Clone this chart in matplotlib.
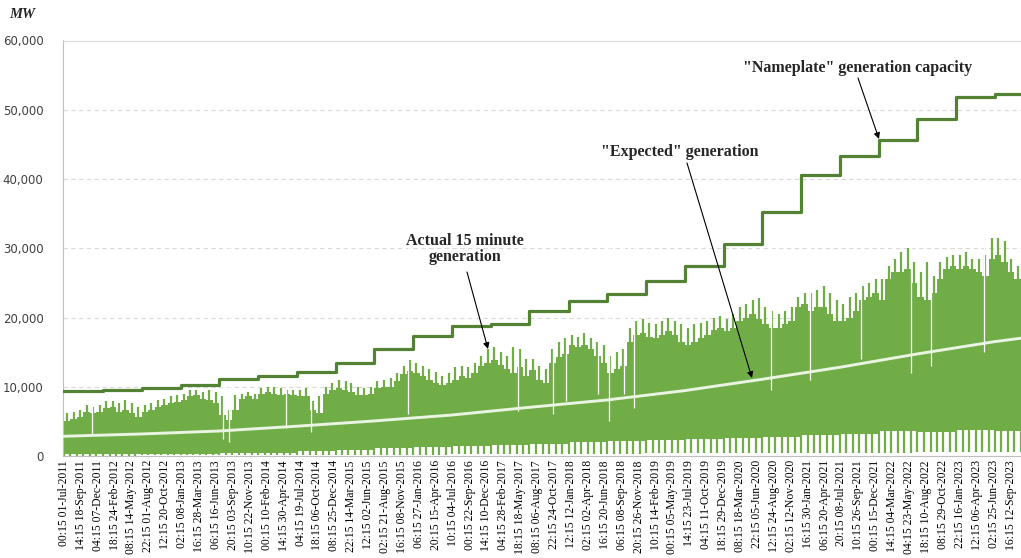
import numpy as np
import pandas as pd
import matplotlib
matplotlib.use("Agg")
import matplotlib.pyplot as plt
import matplotlib.dates as mdates
from matplotlib.ticker import FuncFormatter, MultipleLocator

# ---------------- data ----------------
tick_labels = [
    "00:15 01-Jul-2011", "14:15 18-Sep-2011", "04:15 07-Dec-2011", "18:15 24-Feb-2012",
    "08:15 14-May-2012", "22:15 01-Aug-2012", "12:15 20-Oct-2012", "02:15 08-Jan-2013",
    "16:15 28-Mar-2013", "06:15 16-Jun-2013", "20:15 03-Sep-2013", "10:15 22-Nov-2013",
    "00:15 10-Feb-2014", "14:15 30-Apr-2014", "04:15 19-Jul-2014", "18:15 06-Oct-2014",
    "08:15 25-Dec-2014", "22:15 14-Mar-2015", "12:15 02-Jun-2015", "02:15 21-Aug-2015",
    "16:15 08-Nov-2015", "06:15 27-Jan-2016", "20:15 15-Apr-2016", "10:15 04-Jul-2016",
    "00:15 22-Sep-2016", "14:15 10-Dec-2016", "04:15 28-Feb-2017", "18:15 18-May-2017",
    "08:15 06-Aug-2017", "22:15 24-Oct-2017", "12:15 12-Jan-2018", "02:15 02-Apr-2018",
    "16:15 20-Jun-2018", "06:15 08-Sep-2018", "20:15 26-Nov-2018", "10:15 14-Feb-2019",
    "00:15 05-May-2019", "14:15 23-Jul-2019", "04:15 11-Oct-2019", "18:15 29-Dec-2019",
    "08:15 18-Mar-2020", "22:15 05-Jun-2020", "12:15 24-Aug-2020", "02:15 12-Nov-2020",
    "16:15 30-Jan-2021", "06:15 20-Apr-2021", "20:15 08-Jul-2021", "10:15 26-Sep-2021",
    "00:15 15-Dec-2021", "14:15 04-Mar-2022", "04:15 23-May-2022", "18:15 10-Aug-2022",
    "08:15 29-Oct-2022", "22:15 16-Jan-2023", "12:15 06-Apr-2023", "02:15 25-Jun-2023",
    "16:15 12-Sep-2023",
]

# "Nameplate" capacity, one value per half year (H2-2011 ... H2-2023), MW
capacity_start = "2011-07-01"
nameplate_mw = [9400, 9600, 9800, 10300, 11100, 11600, 12200, 13500, 15500, 17300,
                18800, 19000, 20900, 22400, 23400, 25200, 27400, 30600, 35200, 40600,
                43300, 45600, 48700, 51900, 52300]

# "Expected" generation, read at 1 July of each year (2011-2023) and 1 Jan 2024
expected_dates = ["2011-07-01", "2012-07-01", "2013-07-01", "2014-07-01", "2015-07-01",
                  "2016-07-01", "2017-07-01", "2018-07-01", "2019-07-01", "2020-07-01",
                  "2021-07-01", "2022-07-01", "2023-07-01", "2024-01-01"]
expected_mw = [2850, 3180, 3610, 4300, 5060, 5920, 7030, 8090, 9440, 11080,
               12810, 14740, 16520, 17250]

# Actual 15-minute generation: monthly upper level of the dense band and monthly spike peaks
top_2011 = [5000, 5400, 5700, 6400, 6200, 6400]
top_2012 = [6900, 7100, 6400, 6600, 6200, 5700, 6400, 6600, 7100, 7400, 7600, 7800]
top_2013 = [8100, 8600, 8800, 8300, 8100, 7600, 5900, 5200, 6600, 8300, 8600, 8300]
top_2014 = [9000, 9300, 9000, 8800, 9000, 8800, 8600, 8600, 6600, 6200, 9000, 9500]
top_2015 = [9800, 9500, 9200, 8800, 8800, 9000, 9800, 10000, 10000, 10800, 11800, 12300]
top_2016 = [12000, 11500, 11000, 10500, 10200, 10500, 11000, 11500, 11200, 12000, 13000, 13500]
top_2017 = [13800, 13200, 12500, 12000, 12800, 11500, 12400, 11000, 10500, 13500, 14300, 14800]
top_2018 = [16000, 15800, 16000, 15500, 14500, 13500, 12000, 12500, 13000, 16500, 17500, 17800]
top_2019 = [17200, 17000, 17500, 18000, 17500, 16500, 16000, 16500, 17000, 17500, 18200, 18500]
top_2020 = [18000, 18500, 19500, 20000, 20500, 19800, 19000, 18500, 18500, 19000, 19500, 21500]
top_2021 = [22000, 21000, 21500, 21500, 20500, 19500, 19500, 20000, 21000, 22500, 23000, 23500]
top_2022 = [22500, 25500, 26500, 26500, 27000, 25000, 23000, 22500, 23500, 25500, 27000, 27500]
top_2023 = [27000, 27500, 27000, 26500, 26000, 28500, 29000, 28000, 26500, 25500, 25000]

peak_2011 = [6200, 6300, 6700, 7400, 7100, 7400]
peak_2012 = [7900, 7900, 7600, 8100, 7600, 7100, 7400, 7600, 8100, 8300, 8600, 8800]
peak_2013 = [9000, 9500, 9600, 9300, 9500, 9300, 8600, 6600, 8800, 9000, 9300, 9000]
peak_2014 = [9800, 10000, 10000, 9800, 9600, 9500, 9500, 9800, 8000, 8600, 10000, 10500]
peak_2015 = [11000, 10800, 10500, 10000, 9800, 10000, 10800, 11000, 11200, 12000, 13000, 13800]
peak_2016 = [13500, 13000, 12500, 12200, 11500, 12000, 12800, 13000, 12800, 13500, 14500, 15500]
peak_2017 = [15800, 15000, 14500, 15800, 15500, 14000, 14000, 13000, 12500, 15500, 16500, 17000]
peak_2018 = [17500, 17200, 17800, 17000, 16500, 16000, 14500, 15000, 15500, 18500, 19500, 19800]
peak_2019 = [19200, 19000, 19500, 20000, 19500, 19000, 18500, 19000, 19200, 19500, 20000, 20200]
peak_2020 = [19800, 20500, 21500, 22000, 22500, 22800, 21500, 21000, 20500, 21000, 21500, 23000]
peak_2021 = [23500, 23500, 24000, 24500, 23500, 22500, 22000, 23000, 23500, 24500, 25000, 25500]
peak_2022 = [25500, 27500, 28500, 29500, 30000, 28000, 26500, 28000, 26000, 28000, 28800, 29000]
peak_2023 = [29000, 29500, 28500, 28500, 29000, 31500, 31500, 31000, 28500, 27500, 27000]

# lower edge of the dense band and lowest dips, one value per half year (H2-2011 ... H2-2023)
low_mw = [250, 300, 300, 350, 400, 500, 700, 900, 1100, 1300, 1500, 1600, 1800,
          2000, 2100, 2300, 2500, 2600, 2800, 3000, 3200, 3600, 3400, 3800, 3600]
dip_mw = [50, 50, 80, 80, 100, 100, 150, 150, 200, 200, 250, 300, 300,
          300, 350, 400, 400, 400, 450, 500, 500, 500, 550, 600, 600]

# visible outages (white vertical gaps) and how far down they reach
gap_dates = ["2011-11-10", "2013-07-20", "2013-08-15", "2014-05-10", "2014-09-05",
             "2015-12-05", "2017-05-10", "2017-10-20", "2017-12-20", "2018-05-20",
             "2018-07-10", "2018-09-20", "2018-11-05", "2020-08-10", "2021-02-10",
             "2021-10-10", "2022-06-01", "2022-09-05", "2023-05-10"]
gap_floor_mw = [3000, 2500, 2000, 4000, 3500, 6000, 6500, 6000, 8000, 9000,
                5000, 9000, 7000, 9500, 11000, 14000, 12000, 13000, 15000]

# ---------------- build ----------------
top = np.array(sum([top_2011, top_2012, top_2013, top_2014, top_2015, top_2016, top_2017,
                    top_2018, top_2019, top_2020, top_2021, top_2022, top_2023], []))
peak = np.array(sum([peak_2011, peak_2012, peak_2013, peak_2014, peak_2015, peak_2016, peak_2017,
                     peak_2018, peak_2019, peak_2020, peak_2021, peak_2022, peak_2023], []))

month_start = pd.date_range("2011-07-01", periods=len(top) + 1, freq="MS")
edge_x = mdates.date2num(month_start.to_pydatetime())
start_x = edge_x[:-1]
mid_x = start_x + 15
month_half = ((month_start[:-1].year - 2011) * 12 + month_start[:-1].month - 7) // 6

half_start = pd.date_range(capacity_start, periods=len(nameplate_mw), freq="6MS")
half_x = mdates.date2num(half_start.to_pydatetime())

tick_x = mdates.date2num(pd.to_datetime(tick_labels, format="%H:%M %d-%b-%Y").to_pydatetime())
exp_x = mdates.date2num(pd.to_datetime(expected_dates).to_pydatetime())
gap_x = mdates.date2num(pd.to_datetime(gap_dates).to_pydatetime())

GREEN = "#70AD47"
DARK = "#548235"

W, H = 1021, 558
fig = plt.figure(figsize=(W / 100, H / 100), dpi=100)
ax = fig.add_axes([63 / W, 1 - 456 / H, 958 / W, (456 - 40.5) / H])

lows = np.array(low_mw)[month_half]
dips = np.array(dip_mw)[month_half]

# actual generation: dense monthly band (stepped) + spikes
ax.stairs(top, edge_x, baseline=lows, fill=True, color=GREEN, lw=0, zorder=2)
ax.vlines(mid_x, top - 500, peak, color=GREEN, lw=1.6, zorder=2)
ax.vlines(start_x, dips, lows + 500, color=GREEN, lw=1.6, zorder=2)
ax.vlines(gap_x, gap_floor_mw, 33000, color="white", lw=0.9, zorder=2.5)

# expected generation
ax.plot(exp_x, expected_mw, color="#EAF4E2", lw=2.1, zorder=3)

# nameplate capacity (step)
step_x = np.append(half_x, mdates.date2num(pd.Timestamp("2024-01-01").to_pydatetime()))
step_y = np.append(nameplate_mw, nameplate_mw[-1])
ax.step(step_x, step_y, where="post", color=DARK, lw=2.3, zorder=4)

# axes styling
x0 = mdates.date2num(pd.Timestamp("2011-07-01 00:15").to_pydatetime())
ax.set_xlim(x0 - 4, x0 - 4 + 958 / 0.21242)
ax.set_ylim(0, 60000)
ax.yaxis.set_major_locator(MultipleLocator(10000))
ax.yaxis.set_major_formatter(FuncFormatter(lambda v, p: f"{v:,.0f}"))
ax.grid(axis="y", color="#D9D9D9", linestyle=(0, (4, 3)), lw=0.8, zorder=0)
ax.set_axisbelow(True)
ax.spines["right"].set_visible(False)
ax.spines["top"].set_color("#D9D9D9")
ax.spines["left"].set_color("#BFBFBF")
ax.spines["bottom"].set_color("#BFBFBF")
ax.tick_params(axis="y", length=0, pad=14, labelsize=8.5, labelcolor="#404040")
for t in ax.get_yticklabels():
    t.set_fontfamily("DejaVu Sans")
ax.set_xticks(tick_x)
ax.set_xticklabels(tick_labels, rotation=90, fontfamily="Liberation Serif", fontsize=8.4)
ax.tick_params(axis="x", length=0, pad=3)

def F(px, py):
    return (px / W, 1 - py / H)

fig.text(22 / W, 1 - 14 / H, "MW", fontfamily="Liberation Serif", fontstyle="italic",
         fontweight="bold", fontsize=10.5, ha="center", va="center", color="#262626")

afont = dict(fontfamily="Liberation Serif", fontweight="bold", fontsize=11.5, color="#262626")
fig.text(*F(465, 249), "Actual 15 minute\ngeneration", ha="center", va="center",
         multialignment="center", linespacing=1.05, **afont)
fig.text(*F(680, 152), "\"Expected\" generation", ha="center", va="center", **afont)
fig.text(*F(858, 68), "\"Nameplate\" generation capacity", ha="center", va="center", **afont)

arrow = dict(arrowstyle="-|>", color="black", lw=0.8, mutation_scale=9, shrinkA=0, shrinkB=0)
for (sx, sy), (tx, ty) in [((467, 272), (488, 349)), ((687, 163), (752, 378)), ((858, 78), (879, 139))]:
    ax.annotate("", xy=F(tx, ty), xycoords="figure fraction", xytext=F(sx, sy),
                textcoords="figure fraction", arrowprops=arrow, zorder=6)

fig.savefig("out.png", dpi=100)
